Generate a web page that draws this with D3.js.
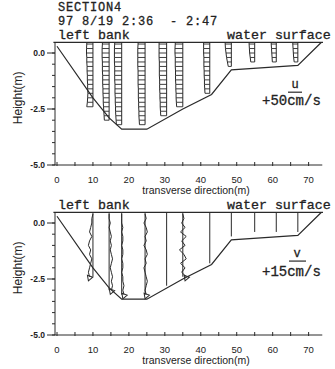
<!DOCTYPE html>
<html>
<head>
<meta charset="utf-8">
<script src="https://cdn.jsdelivr.net/npm/d3@7"></script>
<style>
  body { margin: 0; background: #fff; }
  .mono { font-family: "Liberation Mono", "DejaVu Sans Mono", monospace; fill: #222; stroke: #222; stroke-width: 0.3px; }
  .sans { font-family: "Liberation Sans", Arial, sans-serif; fill: #222; }
</style>
</head>
<body>
<svg id="chart" width="335" height="369"></svg>
<script>
// ---- data ----
const xTicks = [0, 10, 20, 30, 40, 50, 60, 70];
const yTicks = [0, -2.5, -5];
const stations = [10, 14.5, 18, 24.5, 30.5, 35, 42.5, 48.5, 55, 61, 67];
// measurement heights (m), surface downwards
const binHeights = [0.4, 0.2, 0, -0.2, -0.4, -0.6, -0.8, -1.0, -1.2, -1.4, -1.6, -1.8, -2.0, -2.2, -2.4, -2.6, -2.8, -3.0, -3.2];
const surfaceH = 0.47;
// river bed
const bedX = [0, 10, 14.5, 18, 25, 35, 43, 48.5, 67, 73.5];
const bedH = [0.3, -2.0, -2.9, -3.4, -3.4, -2.5, -1.85, -0.75, -0.55, 0.47];

// streamwise velocity u (cm/s) per station
const u10 = [22, 23, 23, 22, 22, 21, 21, 20, 20, 19, 19, 18, 19, 20, 22];
const u14 = [24, 25, 25, 25, 24, 24, 24, 23, 23, 23, 22, 22, 21, 21, 20, 19, 18, 17];
const u18 = [25, 26, 26, 26, 26, 25, 25, 25, 25, 24, 24, 24, 23, 23, 22, 22, 21, 20, 19];
const u24 = [25, 26, 26, 26, 26, 26, 25, 25, 25, 25, 24, 24, 24, 23, 23, 22, 22, 21, 20];
const u30 = [27, 27, 27, 27, 26, 26, 26, 26, 25, 25, 25, 24, 24, 23, 23, 22, 21];
const u35 = [27, 28, 28, 27, 27, 27, 26, 26, 26, 25, 25, 24, 24, 23, 22];
const u42 = [22, 22, 22, 21, 21, 21, 20, 20, 19, 19, 18, 17];
const u48 = [22, 21, 19, 17, 14, 11];
const u55 = [20, 19, 18, 16, 14];
const u61 = [18, 17, 16, 15, 14];
const u67 = [18, 17, 16, 15, 13];
const uProfiles = [u10, u14, u18, u24, u30, u35, u42, u48, u55, u61, u67];

// transverse velocity v (cm/s) per station (null: only the station line is visible)
const v10 = [0, -1, -1, -2, -3, -1, -3, -4, -2, -3, -1, -2, -3, -4, -3];
const v14 = [0, 0, 1, 0, 1, 2, 1, 2, 1, 2, 3, 2, 1, 2, 3, 2, 3, 2];
const v18 = [0, 0, 0, 1, 0, 1, 1, 0, 1, 1, 0, 1, 1, 0, 1, 1, 2, 1, 2];
const v24 = [0, 1, -1, 1, 2, 0, 1, -1, 1, 2, 0, 1, -1, 0, 1, 2, 1, 0, 1];
const v35 = [0, 1, -1, 2, -2, 3, -1, 2, -3, 1, 3, -2, 2, -1, 3];
const vProfiles = [v10, v14, v18, v24, null, v35, null, null, null, null, null];
// number of bins per station for v panel station lines
const vDepthBins = [15, 18, 19, 19, 17, 15, 12, 6, 5, 5, 5];

const svg = d3.select('#chart');
const ink = '#2a2a2a';

const x = d3.scaleLinear().domain([0, 74]).range([57, 323]);
const uScale = d3.scaleLinear().domain([0, 50]).range([0, 14]);
const vScale = d3.scaleLinear().domain([0, 15]).range([0, 17]);

// header text
svg.append('text').attr('class', 'mono').attr('x', 58).attr('y', 11)
  .style('font-size', '12px').style('letter-spacing', '0.8px').text('SECTION4');
svg.append('text').attr('class', 'mono').attr('x', 58).attr('y', 25)
  .style('font-size', '12px').style('letter-spacing', '0.8px')
  .attr('xml:space', 'preserve').text('97 8/19 2:36  - 2:47');

function drawPanel(top, kind) {
  const y = d3.scaleLinear().domain([0, -5]).range([top, top + 112]);
  const g = svg.append('g');

  // labels above
  g.append('text').attr('class', 'mono').attr('x', 58).attr('y', y(surfaceH) - 3)
    .style('font-size', '13.3px').text('left bank');
  g.append('text').attr('class', 'mono').attr('x', 227).attr('y', y(surfaceH) - 3)
    .style('font-size', '13.3px').text('water surface');

  // axes lines
  g.append('line').attr('x1', 55).attr('x2', 55)
    .attr('y1', y(surfaceH)).attr('y2', y(-5)).attr('stroke', ink);
  g.append('line').attr('x1', 55).attr('x2', x(73.8))
    .attr('y1', y(-5)).attr('y2', y(-5)).attr('stroke', ink);

  // y ticks
  const minor = [0, -0.5, -1, -1.5, -2, -2.5, -3, -3.5, -4, -4.5, -5];
  g.selectAll('.ym').data(minor).join('line')
    .attr('x1', 52).attr('x2', 55).attr('y1', d => y(d)).attr('y2', d => y(d)).attr('stroke', ink);
  g.selectAll('.yM').data(yTicks).join('line')
    .attr('x1', 47).attr('x2', 55).attr('y1', d => y(d)).attr('y2', d => y(d)).attr('stroke', ink);
  g.selectAll('.yl').data(yTicks).join('text').attr('class', 'sans')
    .attr('x', 45).attr('y', d => y(d) + 3).attr('text-anchor', 'end')
    .style('font-size', '8.5px').style('font-weight', 'bold').text(d => d.toFixed(1));

  // x ticks
  const xMinor = [0, 5, 10, 15, 20, 25, 30, 35, 40, 45, 50, 55, 60, 65, 70];
  g.selectAll('.xm').data(xMinor).join('line')
    .attr('x1', d => x(d)).attr('x2', d => x(d))
    .attr('y1', y(-5) - 3).attr('y2', y(-5) + 1).attr('stroke', ink);
  g.selectAll('.xl').data(xTicks).join('text').attr('class', 'sans')
    .attr('x', d => x(d)).attr('y', y(-5) + 18).attr('text-anchor', 'middle')
    .style('font-size', '9.5px').text(d => d);

  g.append('text').attr('class', 'sans').attr('x', 196).attr('y', y(-5) + 29)
    .attr('text-anchor', 'middle').style('font-size', '10.5px').text('transverse direction(m)');
  g.append('text').attr('class', 'sans')
    .attr('transform', `translate(22,${y(-2)}) rotate(-90)`)
    .attr('text-anchor', 'middle').style('font-size', '12px').text('Height(m)');

  // water surface and bed
  g.append('line').attr('x1', x(-1)).attr('x2', x(74))
    .attr('y1', y(surfaceH)).attr('y2', y(surfaceH)).attr('stroke', ink).attr('stroke-width', 1.3);
  g.append('path').datum(bedX.map((d, i) => [d, bedH[i]]))
    .attr('d', d3.line().x(d => x(d[0])).y(d => y(d[1])))
    .attr('fill', 'none').attr('stroke', ink).attr('stroke-width', 1.2);

  if (kind === 'u') {
    stations.forEach((st, i) => {
      const prof = uProfiles[i];
      const hs = binHeights.slice(0, prof.length);
      const x0 = x(st);
      g.append('line').attr('x1', x0).attr('x2', x0)
        .attr('y1', y(surfaceH)).attr('y2', y(hs[hs.length - 1])).attr('stroke', ink);
      const pts = prof.map((u, j) => [x0 - uScale(u), y(hs[j])]);
      g.append('path').datum([[pts[0][0], y(surfaceH)], ...pts])
        .attr('d', d3.line()).attr('fill', 'none').attr('stroke', ink);
      g.selectAll(null).data(pts).join('line')
        .attr('x1', d => d[0]).attr('x2', x0).attr('y1', d => d[1]).attr('y2', d => d[1])
        .attr('stroke', ink).attr('stroke-width', 0.9);
    });
    // reference vector
    g.append('text').attr('class', 'mono').attr('x', 295).attr('y', y(-1.55))
      .attr('text-anchor', 'middle').style('font-size', '12px').text('u');
    g.append('line').attr('x1', 288).attr('x2', 288 + uScale(50))
      .attr('y1', y(-1.75)).attr('y2', y(-1.75)).attr('stroke', ink).attr('stroke-width', 1.2);
    g.append('text').attr('class', 'mono').attr('x', 262).attr('y', y(-2.3))
      .style('font-size', '14px').text('+50cm/s');
  } else {
    stations.forEach((st, i) => {
      const hs = binHeights.slice(0, vDepthBins[i]);
      const x0 = x(st);
      g.append('line').attr('x1', x0).attr('x2', x0)
        .attr('y1', y(surfaceH)).attr('y2', y(hs[hs.length - 1])).attr('stroke', ink);
      const prof = vProfiles[i];
      if (!prof) return;
      const pts = prof.map((v, j) => [x0 + vScale(v), y(binHeights[j])]);
      g.append('path').datum(pts).attr('d', d3.line())
        .attr('fill', 'none').attr('stroke', ink).attr('stroke-width', 1);
      const last = pts[pts.length - 1];
      g.append('path').attr('d', d3.symbol(d3.symbolTriangle, 14)())
        .attr('transform', `translate(${last[0]},${last[1] + 1}) rotate(200)`)
        .attr('fill', 'none').attr('stroke', ink);
    });
    g.append('text').attr('class', 'mono').attr('x', 297).attr('y', y(-1.5))
      .attr('text-anchor', 'middle').style('font-size', '12px').text('v');
    g.append('line').attr('x1', 289).attr('x2', 289 + vScale(15))
      .attr('y1', y(-1.7)).attr('y2', y(-1.7)).attr('stroke', ink).attr('stroke-width', 1.2);
    g.append('text').attr('class', 'mono').attr('x', 262).attr('y', y(-2.35))
      .style('font-size', '14px').text('+15cm/s');
  }
}

drawPanel(53, 'u');
drawPanel(223, 'v');
</script>
</body>
</html>
